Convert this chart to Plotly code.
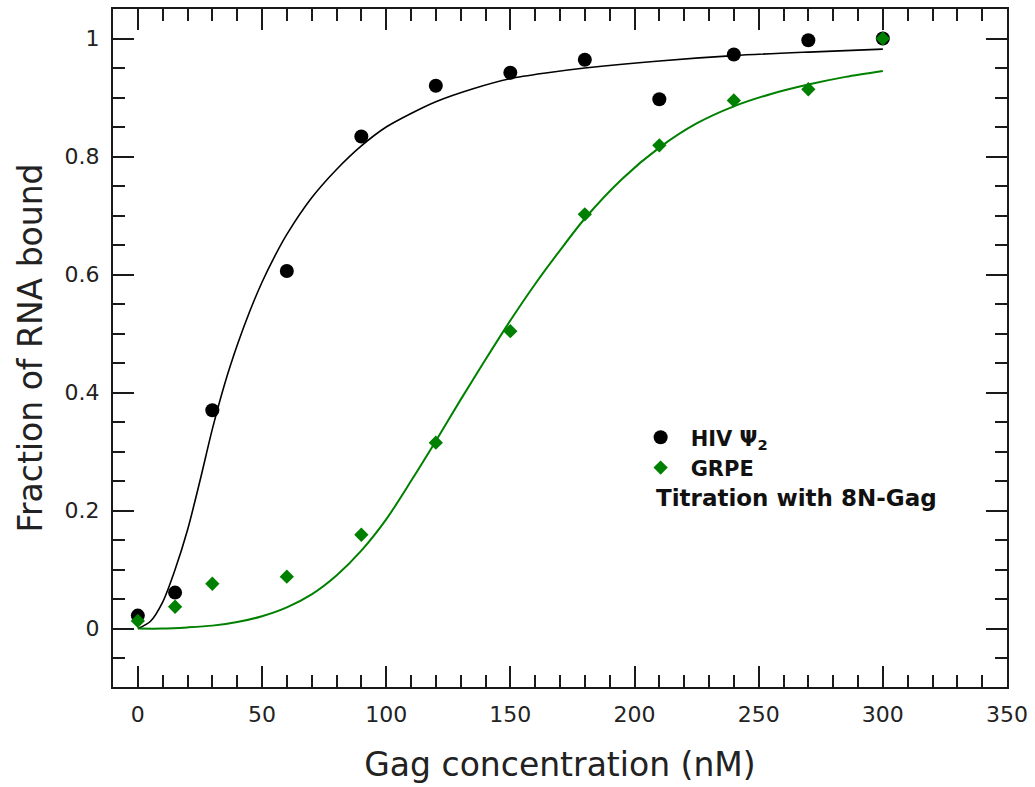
import plotly.graph_objects as go

# Measured data points
conc = [0, 15, 30, 60, 90, 120, 150, 180, 210, 240, 270, 300]
hiv_bound = [0.022, 0.061, 0.370, 0.606, 0.834, 0.920, 0.942, 0.964, 0.897, 0.973, 0.997, 1.000]
grpe_bound = [0.013, 0.037, 0.076, 0.088, 0.159, 0.315, 0.504, 0.702, 0.819, 0.895, 0.914, 1.000]

# Fitted curves
hiv_fit_x = [0, 5, 10, 15, 20, 25, 30, 35, 40, 45, 50, 55, 60, 70, 80, 90, 100, 110, 120,
             135, 150, 165, 180, 210, 240, 270, 300]
hiv_fit_y = [0.0, 0.012, 0.045, 0.100, 0.167, 0.250, 0.338, 0.415, 0.480, 0.537, 0.587, 0.630,
             0.668, 0.730, 0.778, 0.818, 0.850, 0.873, 0.893, 0.915, 0.932, 0.942, 0.950,
             0.962, 0.971, 0.977, 0.982]
grpe_fit_x = [0, 10, 20, 30, 40, 50, 60, 70, 80, 90, 100, 110, 120, 130, 140, 150, 160, 170,
              180, 195, 210, 225, 240, 255, 270, 285, 300]
grpe_fit_y = [0.0, 0.0, 0.002, 0.005, 0.011, 0.021, 0.036, 0.058, 0.090, 0.132, 0.185, 0.250,
              0.318, 0.388, 0.456, 0.522, 0.584, 0.641, 0.695, 0.762, 0.815, 0.856, 0.885,
              0.906, 0.922, 0.935, 0.945]

x_ticks = [0, 50, 100, 150, 200, 250, 300, 350]
y_ticks = [0, 0.2, 0.4, 0.6, 0.8, 1]
y_tick_text = ["0", "0.2", "0.4", "0.6", "0.8", "1"]

BLACK = "#000000"
GREEN = "#008000"
AXIS = "#1a1a1a"
FONT = "DejaVu Sans"

fig = go.Figure()
fig.add_trace(go.Scatter(x=hiv_fit_x, y=hiv_fit_y, mode="lines", showlegend=False,
                         line=dict(color=BLACK, width=1.6, shape="spline", smoothing=0.8)))
fig.add_trace(go.Scatter(x=grpe_fit_x, y=grpe_fit_y, mode="lines", showlegend=False,
                         line=dict(color=GREEN, width=2, shape="spline", smoothing=0.8)))
fig.add_trace(go.Scatter(x=conc, y=hiv_bound, mode="markers", name="HIV Ψ<sub>2</sub>",
                         marker=dict(symbol="circle", size=14, color=BLACK)))
fig.add_trace(go.Scatter(x=conc, y=grpe_bound, mode="markers", name="GRPE",
                         marker=dict(symbol="diamond", size=11, color=GREEN)))

axis_common = dict(
    showline=True, linecolor=AXIS, linewidth=2, mirror="allticks",
    ticks="inside", ticklen=21, tickwidth=2, tickcolor=AXIS,
    showgrid=False, zeroline=False,
    tickfont=dict(family=FONT, size=22, color="#222222"),
    minor=dict(ticks="inside", ticklen=12, tickwidth=2, tickcolor=AXIS, showgrid=False),
)

fig.update_layout(
    width=1035, height=787,
    margin=dict(l=113, r=28, t=7, b=100),
    paper_bgcolor="white", plot_bgcolor="white",
    font=dict(family=FONT, color="#222222"),
    xaxis=dict(range=[-10, 350], tickmode="array", tickvals=x_ticks,
               title=dict(text="Gag concentration (nM)", font=dict(family=FONT, size=33, color="#222222"),
                          standoff=26),
               ticklabelstandoff=7,
               **axis_common),
    yaxis=dict(range=[-0.099, 1.05], tickmode="array", tickvals=y_ticks, ticktext=y_tick_text,
               title=dict(text="Fraction of RNA bound", font=dict(family=FONT, size=33, color="#222222"),
                          standoff=12),
               ticklabelstandoff=7,
               **axis_common),
    legend=dict(x=0.579, y=0.398, xanchor="left", yanchor="top",
                bgcolor="rgba(0,0,0,0)", itemwidth=50,
                font=dict(family=FONT, size=21, color="#111111", weight="bold"),
                tracegroupgap=0),
    showlegend=True,
)
fig.update_xaxes(minor=dict(dtick=10, tick0=0))
fig.update_yaxes(minor=dict(dtick=0.05, tick0=0))

fig.add_annotation(x=208, y=0.222, xref="x", yref="y", xanchor="left", yanchor="middle",
                   text="<b>Titration with 8N-Gag</b>", showarrow=False,
                   font=dict(family=FONT, size=23, color="#111111"))

fig.write_html("out.html")
